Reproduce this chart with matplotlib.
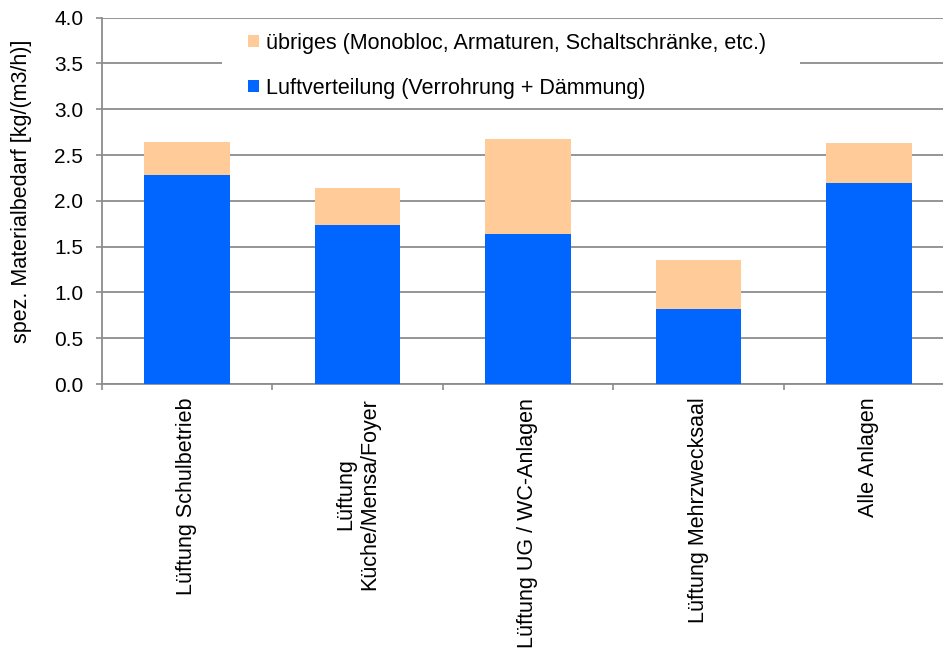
import numpy as np
import matplotlib
matplotlib.use("Agg")
import matplotlib.pyplot as plt
from matplotlib.patches import Rectangle

plt.rcParams['font.family'] = ['Liberation Sans', 'DejaVu Sans']

# data
kategorien = ["Lüftung Schulbetrieb", "Lüftung\nKüche/Mensa/Foyer", "Lüftung UG / WC-Anlagen",
              "Lüftung Mehrzwecksaal", "Alle Anlagen"]
luftverteilung = [2.28, 1.74, 1.64, 0.82, 2.19]
uebriges = [0.36, 0.40, 1.03, 0.53, 0.44]
y_ticks = [0.0, 0.5, 1.0, 1.5, 2.0, 2.5, 3.0, 3.5, 4.0]

lbl_uebr = "übriges (Monobloc, Armaturen, Schaltschränke, etc.)"
lbl_luft = "Luftverteilung (Verrohrung + Dämmung)"

blau = '#0066FF'
orange = '#FFCC99'
grau = '#8C8C8C'
fs = 15.5

W, H = 943, 652
fig = plt.figure(figsize=(W/100, H/100), dpi=100)
ax = fig.add_axes([101.7/W, 268/H, 852.5/W, 366.3/H])

x = np.arange(len(kategorien))
b1 = ax.bar(x, luftverteilung, width=0.5, color=blau, zorder=3, label=lbl_luft)
b2 = ax.bar(x, uebriges, width=0.5, bottom=luftverteilung, color=orange, zorder=3, label=lbl_uebr)

ax.set_xlim(-0.5, len(kategorien) - 0.5)
ax.set_ylim(0, 4.0)
ax.set_yticks(y_ticks)
ax.set_yticklabels([f"{v:.1f}" for v in y_ticks], fontsize=15)
ax.yaxis.grid(True, color=grau, lw=1.3, zorder=0)

# category ticks sit between the bars
ax.set_xticks(np.arange(-0.5, len(kategorien) - 0.4, 1.0))
ax.set_xticklabels([])
ax.tick_params(axis='x', direction='out', length=4.3, color=grau, width=1.2)
ax.tick_params(axis='y', direction='out', length=4.3, color=grau, width=1.2, pad=9)
for i, k in enumerate(kategorien):
    ax.text(i, -0.15, k, rotation=90, ha='center', va='top', multialignment='center',
            fontsize=fs)

for s in ['top', 'right']:
    ax.spines[s].set_visible(False)
for s in ['left', 'bottom']:
    ax.spines[s].set_color(grau)
    ax.spines[s].set_linewidth(1.3)

ax.set_ylabel("spez. Materialbedarf [kg/(m3/h)]", fontsize=fs)
ax.yaxis.set_label_coords((32 - 101.7)/852.5, 0.527)

# white legend area over the grid lines
ax.add_patch(Rectangle((222/W, 1 - 103/H), 578/W, 82/H, transform=fig.transFigure,
                       facecolor='white', edgecolor='none', zorder=4, clip_on=False))

leg = ax.legend(handles=[b2, b1], loc='upper left', fontsize=fs, frameon=False,
                handlelength=0.5, handleheight=0.5, handletextpad=0.35, labelspacing=1.1,
                borderpad=0, borderaxespad=0)
leg.set_bbox_to_anchor((248/W, 1 - 33/H), transform=fig.transFigure)
leg.set_zorder(5)

fig.savefig("out.png", dpi=100)
